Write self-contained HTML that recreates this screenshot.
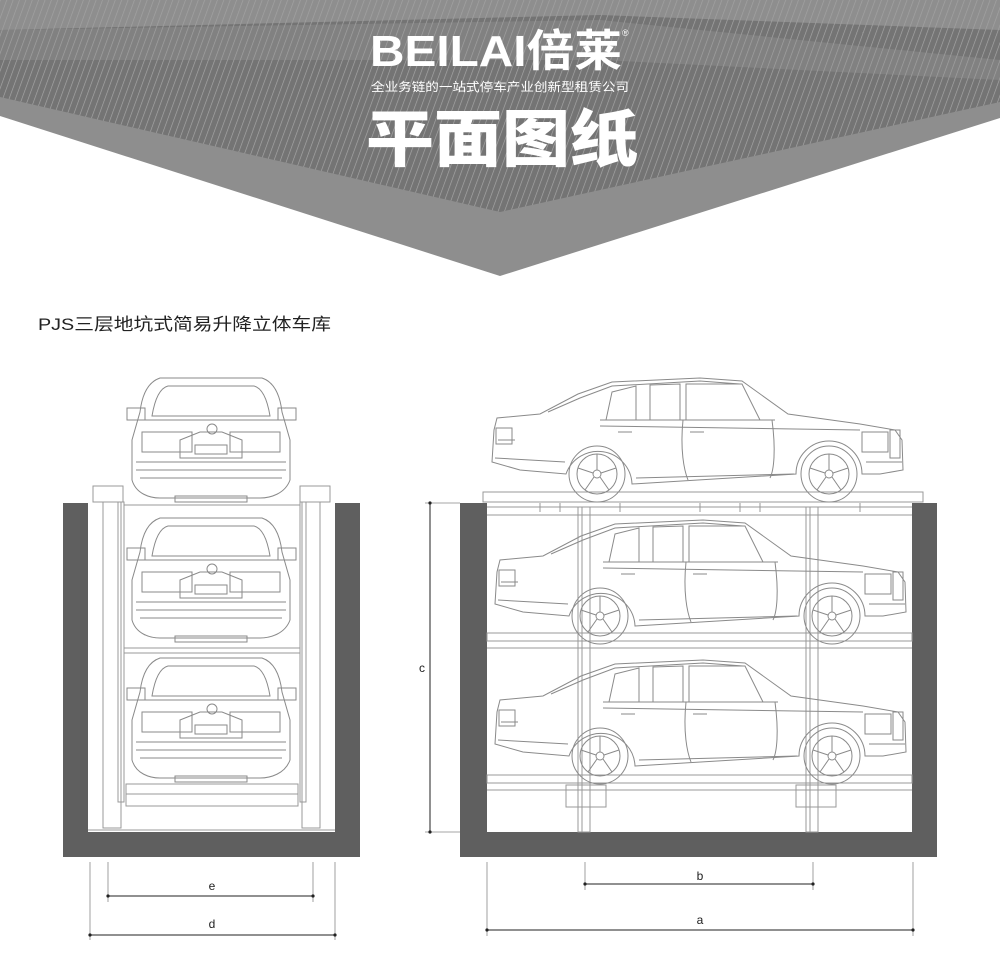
<!DOCTYPE html>
<html><head><meta charset="utf-8"><style>
html,body{margin:0;padding:0;background:#fff;}
body{width:1000px;height:980px;position:relative;overflow:hidden;font-family:"Liberation Sans","Noto Sans CJK SC",sans-serif;}
</style></head><body>
<svg width="1000" height="980" viewBox="0 0 1000 980" xmlns="http://www.w3.org/2000/svg" style="position:absolute;left:0;top:0">
<defs>
<pattern id="hatch" width="6" height="6" patternUnits="userSpaceOnUse" patternTransform="rotate(20)">
<rect width="6" height="6" fill="#747474"/><line x1="0" y1="0" x2="0" y2="6" stroke="#a8a8a8" stroke-width="1.3"/>
</pattern>
<g id="sidecar" fill="none" stroke="#8a8a8a" stroke-width="1">
<path d="M492,462 L494,430 L497,418 L540,414 L578,394 L612,382 L700,378 L742,381 L788,414 L860,424 L895,430 L902,440 L903,470 L880,474 L862,474 A32,32 0 0 0 796,474 L632,484 A34,34 0 0 0 566,474 L520,470 L492,462 Z"/>
<path d="M548,412 L580,398 L612,386 L700,381 L740,384"/>
<path d="M612,392 L636,386 L636,420 L606,420 Z"/><path d="M650,385 L680,384 L680,420 L650,420 Z"/><path d="M686,384 L742,384 L760,420 L686,420 Z"/>
<line x1="600" y1="420" x2="775" y2="420"/><path d="M683,420 C680,450 684,470 688,480"/><path d="M772,420 C776,450 774,470 770,478"/>
<line x1="495" y1="458" x2="565" y2="462"/><line x1="636" y1="478" x2="794" y2="474"/><line x1="866" y1="462" x2="902" y2="462"/>
<line x1="600" y1="426" x2="860" y2="430"/>
<rect x="862" y="432" width="26" height="20"/><rect x="890" y="430" width="10" height="28"/><line x1="498" y1="440" x2="515" y2="440"/>
<rect x="496" y="428" width="16" height="16"/>
<circle cx="597" cy="474" r="28"/><circle cx="597" cy="474" r="20"/><circle cx="597" cy="474" r="4"/>
<path d="M597,454 L597,470 M578,468 L593,473 M585,490 L594,477 M609,490 L600,477 M616,468 L601,473"/>
<circle cx="829" cy="474" r="28"/><circle cx="829" cy="474" r="20"/><circle cx="829" cy="474" r="4"/>
<path d="M829,454 L829,470 M810,468 L825,473 M817,490 L826,477 M841,490 L832,477 M848,468 L833,473"/>
<line x1="618" y1="432" x2="632" y2="432"/><line x1="690" y1="432" x2="704" y2="432"/>
</g>
<g id="frontcar" fill="none" stroke="#8a8a8a" stroke-width="1">
<path d="M140,412 C142,395 148,382 160,378 L262,378 C274,382 280,395 282,412 L290,440 L290,480 C285,494 270,498 260,498 L160,498 C150,498 136,494 132,480 L132,440 Z"/>
<path d="M152,416 C155,398 160,388 168,386 L254,386 C262,388 267,398 270,416 Z"/>
<rect x="127" y="408" width="18" height="12"/><rect x="278" y="408" width="18" height="12"/>
<rect x="142" y="432" width="50" height="20"/><rect x="230" y="432" width="50" height="20"/>
<path d="M180,440 L200,432 L222,432 L242,440 L242,458 L180,458 Z"/><rect x="195" y="445" width="32" height="9"/>
<circle cx="212" cy="429" r="5"/><line x1="140" y1="420" x2="282" y2="420"/>
<line x1="136" y1="462" x2="286" y2="462"/><line x1="136" y1="470" x2="286" y2="470"/><line x1="140" y1="478" x2="282" y2="478"/>
<rect x="175" y="496" width="72" height="6"/>
</g>
</defs>
<!-- header -->
<polygon points="0,0 1000,0 1000,118 500,276 0,116" fill="#8e8e8e"/>
<polygon points="0,0 1000,0 1000,102 500,212 0,97" fill="url(#hatch)"/>
<polygon points="0,0 1000,0 1000,30 600,15 0,30" fill="#a0a0a0" opacity="0.6"/>
<polygon points="0,30 600,20 1000,60 1000,80 600,60 0,60" fill="#9a9a9a" opacity="0.35"/>
<text x="370" y="66" fill="#fff" font-size="44" font-weight="bold" font-family="Liberation Sans,'Noto Sans CJK SC',sans-serif" textLength="252" lengthAdjust="spacingAndGlyphs">BEILAI倍莱</text>
<text x="622" y="36" fill="#fff" font-size="9">®</text>
<text x="371" y="91" fill="#fff" font-size="12" textLength="258" lengthAdjust="spacingAndGlyphs">全业务链的一站式停车产业创新型租赁公司</text>
<text x="366" y="161" fill="#fff" font-size="62" font-weight="900" textLength="272" lengthAdjust="spacingAndGlyphs" font-family="'Noto Sans CJK SC',sans-serif">平面图纸</text>
<text x="38" y="330" fill="#222" font-size="17" textLength="293" lengthAdjust="spacingAndGlyphs">PJS三层地坑式简易升降立体车库</text>
<!-- left pit -->
<path d="M63,503 H88 V832 H335 V503 H360 V857 H63 Z" fill="#5f5f5f"/>
<g fill="none" stroke="#999" stroke-width="1">
<rect x="93" y="486" width="30" height="16"/><rect x="300" y="486" width="30" height="16"/>
<rect x="103" y="502" width="18" height="326"/><rect x="302" y="502" width="18" height="326"/>
<rect x="118" y="502" width="6" height="300"/><rect x="300" y="502" width="6" height="300"/>
<line x1="124" y1="505" x2="300" y2="505"/><line x1="124" y1="648" x2="300" y2="648"/><line x1="124" y1="653" x2="300" y2="653"/>
<rect x="126" y="784" width="172" height="10"/><rect x="126" y="794" width="172" height="12"/>
<line x1="88" y1="830" x2="335" y2="830"/>
</g>
<use href="#frontcar"/>
<use href="#frontcar" transform="translate(0,140)"/>
<use href="#frontcar" transform="translate(0,280)"/>
<!-- right pit -->
<path d="M460,503 H487 V832 H912 V503 H937 V857 H460 Z" fill="#5f5f5f"/>
<g fill="none" stroke="#999" stroke-width="1">
<rect x="483" y="492" width="440" height="10"/><line x1="487" y1="507" x2="912" y2="507"/><line x1="487" y1="515" x2="912" y2="515"/>
<rect x="578" y="507" width="12" height="325"/><rect x="806" y="507" width="12" height="325"/>
<line x1="582" y1="507" x2="582" y2="832"/><line x1="810" y1="507" x2="810" y2="832"/>
<rect x="487" y="633" width="425" height="8"/><line x1="487" y1="648" x2="912" y2="648"/>
<rect x="487" y="775" width="425" height="8"/><line x1="487" y1="790" x2="912" y2="790"/>
<rect x="566" y="785" width="40" height="22"/><rect x="796" y="785" width="40" height="22"/>
<path d="M540,503 V512 M560,503 V512 M620,503 V512 M700,503 V512 M740,503 V512 M760,503 V512 M860,503 V512"/>
</g>
<use href="#sidecar"/>
<use href="#sidecar" transform="translate(3,142)"/>
<use href="#sidecar" transform="translate(3,282)"/>
<!-- dimensions -->
<g stroke="#888" stroke-width="0.8" fill="none">
<line x1="90" y1="862" x2="90" y2="940"/><line x1="335" y1="862" x2="335" y2="940"/>
<line x1="108" y1="862" x2="108" y2="902"/><line x1="313" y1="862" x2="313" y2="902"/>
<line x1="487" y1="862" x2="487" y2="936"/><line x1="913" y1="862" x2="913" y2="936"/>
<line x1="585" y1="862" x2="585" y2="890"/><line x1="813" y1="862" x2="813" y2="890"/>
<line x1="425" y1="503" x2="460" y2="503"/><line x1="425" y1="832" x2="460" y2="832"/>
</g>
<g stroke="#222" stroke-width="1">
<line x1="108" y1="896" x2="313" y2="896"/><line x1="90" y1="935" x2="335" y2="935"/>
<line x1="585" y1="884" x2="813" y2="884"/><line x1="487" y1="930" x2="913" y2="930"/>
<line x1="430" y1="503" x2="430" y2="832"/>
</g>
<g fill="#222">
<circle cx="108" cy="896" r="1.6"/><circle cx="313" cy="896" r="1.6"/><circle cx="90" cy="935" r="1.6"/><circle cx="335" cy="935" r="1.6"/>
<circle cx="585" cy="884" r="1.6"/><circle cx="813" cy="884" r="1.6"/><circle cx="487" cy="930" r="1.6"/><circle cx="913" cy="930" r="1.6"/>
<circle cx="430" cy="503" r="1.6"/><circle cx="430" cy="832" r="1.6"/>
</g>
<g fill="#222" font-size="12" text-anchor="middle">
<text x="212" y="890">e</text><text x="212" y="928">d</text><text x="700" y="880">b</text><text x="700" y="924">a</text><text x="422" y="672">c</text>
</g>
</svg>
</body></html>
